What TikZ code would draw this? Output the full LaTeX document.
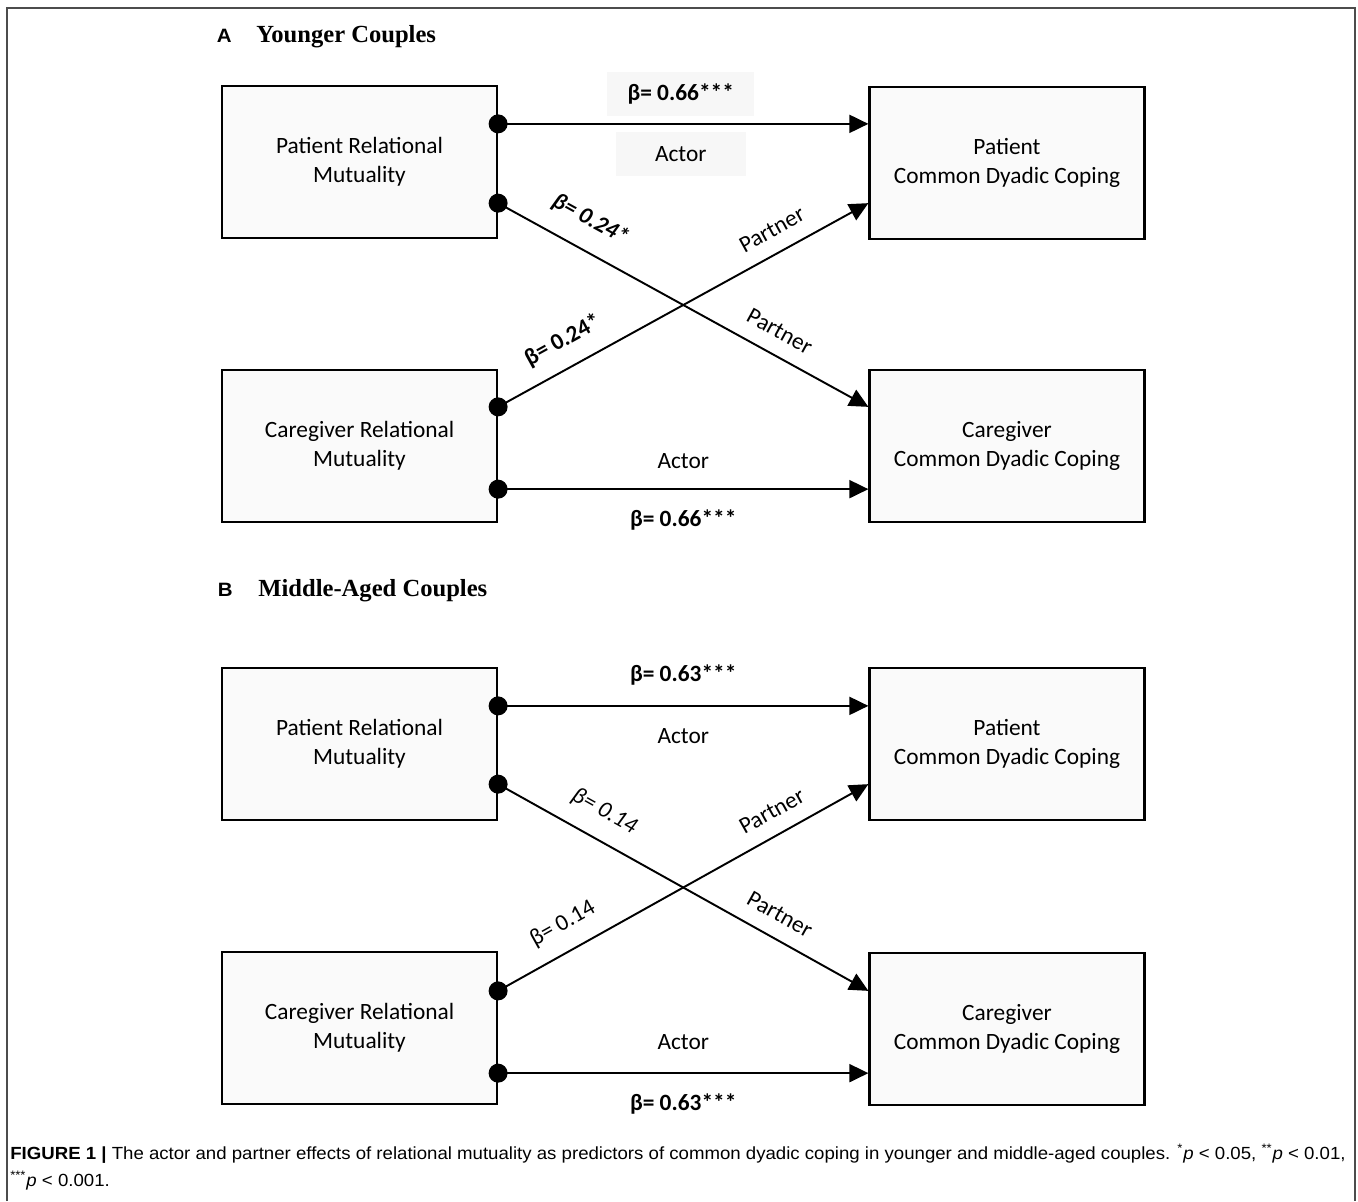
\documentclass[tikz,border=0pt]{standalone}
\usepackage{fontspec}
\setmainfont{Carlito}
\newfontfamily\headfont{Liberation Serif}
\newfontfamily\capfont[FakeStretch=1.06]{Liberation Sans}
\usetikzlibrary{arrows.meta,positioning}

\begin{document}
\begin{tikzpicture}[x=0.02cm, y=-0.02cm,
  varbox/.style={draw, line width=1.3pt, fill=gray!4, minimum width=5.5cm,
    minimum height=3.04cm, align=center, font=\fontsize{13.3}{16.4}\selectfont},
  effect/.style={line width=1.1pt, -{Triangle[length=0.38cm, width=0.36cm]}},
  coef/.style={font=\fontsize{13.3}{15.6}\selectfont\bfseries},
  lbl/.style={font=\fontsize{13.3}{15.6}\selectfont},
  shade/.style={fill=gray!6, minimum height=0.88cm},
  heading/.style={inner sep=0pt, font=\headfont\fontsize{14}{16}\selectfont\bfseries},
  tag/.style={inner sep=0pt, font=\capfont\fontsize{11}{13}\selectfont\bfseries},
  capline/.style={inner sep=0pt, anchor=base west, font=\capfont\fontsize{10}{12}\selectfont}]

\useasboundingbox (0,0) rectangle (1358,1201);
\draw[gray!60!black, line width=1.1pt] (7,1201) -- (7,8) -- (1355,8) -- (1355,1201);

% panel A
\node[heading, anchor=base west] (titleA) at (256,42) {Younger Couples};
\node[tag, left=0.48cm of titleA.base west, anchor=base east] (tagA) {A};

\node[varbox] (prmA) at (359.5,162) {Patient Relational\\Mutuality};
\node[varbox] (pcdcA) at (1007,163) {Patient\\Common Dyadic Coping};
\node[varbox] (crmA) at (359.5,446) {Caregiver Relational\\Mutuality};
\node[varbox] (ccdcA) at (1007,446) {Caregiver\\Common Dyadic Coping};

\coordinate[below=0.78cm of prmA.north east] (a1);
\coordinate[above=0.72cm of prmA.south east] (a2);
\coordinate[below=0.76cm of crmA.north east] (b1);
\coordinate[above=0.68cm of crmA.south east] (b2);

\draw[effect] (a1) -- (pcdcA.west |- a1)
  node[coef, shade, minimum width=2.94cm, midway, xshift=-0.05cm, yshift=0.6cm] {β= 0.66***}
  node[lbl, shade, minimum width=2.6cm, midway, xshift=-0.05cm, yshift=-0.6cm] {Actor};
\draw[effect] (a2) -- (ccdcA.west |- b1)
  node[coef, sloped, pos=0.21, above=0.26cm] {\itshape β= 0.24*}
  node[lbl, sloped, pos=0.73, above=0.18cm] {Partner};
\draw[effect] (b1) -- (pcdcA.west |- a2)
  node[coef, sloped, pos=0.21, above=0.2cm] {β= 0.24*}
  node[lbl, sloped, pos=0.77, above=0.18cm] {Partner};
\draw[effect] (b2) -- (ccdcA.west |- b2)
  node[lbl, midway, yshift=0.56cm] {Actor}
  node[coef, midway, yshift=-0.62cm] {β= 0.66***};

% panel B
\node[heading, anchor=base west] (titleB) at (258,596) {Middle-Aged Couples};
\node[tag, left=0.5cm of titleB.base west, anchor=base east] (tagB) {B};

\node[varbox] (prmB) at (359.5,744) {Patient Relational\\Mutuality};
\node[varbox] (pcdcB) at (1007,744) {Patient\\Common Dyadic Coping};
\node[varbox] (crmB) at (359.5,1028) {Caregiver Relational\\Mutuality};
\node[varbox] (ccdcB) at (1007,1029) {Caregiver\\Common Dyadic Coping};

\coordinate[below=0.78cm of prmB.north east] (c1);
\coordinate[above=0.74cm of prmB.south east] (c2);
\coordinate[below=0.8cm of crmB.north east] (d1);
\coordinate[above=0.64cm of crmB.south east] (d2);

\draw[effect] (c1) -- (pcdcB.west |- c1)
  node[coef, midway, yshift=0.62cm] {β= 0.63***}
  node[lbl, midway, yshift=-0.6cm] {Actor};
\draw[effect] (c2) -- (ccdcB.west |- d1)
  node[lbl, sloped, pos=0.25, above=0.22cm] {\itshape β= 0.14}
  node[lbl, sloped, pos=0.73, above=0.18cm] {Partner};
\draw[effect] (d1) -- (pcdcB.west |- c2)
  node[lbl, sloped, pos=0.21, above=0.2cm] {β= 0.14}
  node[lbl, sloped, pos=0.77, above=0.18cm] {Partner};
\draw[effect] (d2) -- (ccdcB.west |- d2)
  node[lbl, midway, yshift=0.62cm] {Actor}
  node[coef, midway, yshift=-0.62cm] {β= 0.63***};

\foreach \d in {a1,a2,b1,b2,c1,c2,d1,d2}
  \fill (\d) circle (0.19cm);

% caption
\node[capline] (cap1) at (10,1159) {\textbf{FIGURE 1 |} The actor and partner effects of relational mutuality as predictors of common dyadic coping in younger and middle-aged couples. \textsuperscript{*}\textit{p} < 0.05, \textsuperscript{**}\textit{p} < 0.01,};
\node[capline, below=0.54cm of cap1.base west, anchor=base west] (cap2) {\textsuperscript{***}\textit{p} < 0.001.};
\end{tikzpicture}
\end{document}
